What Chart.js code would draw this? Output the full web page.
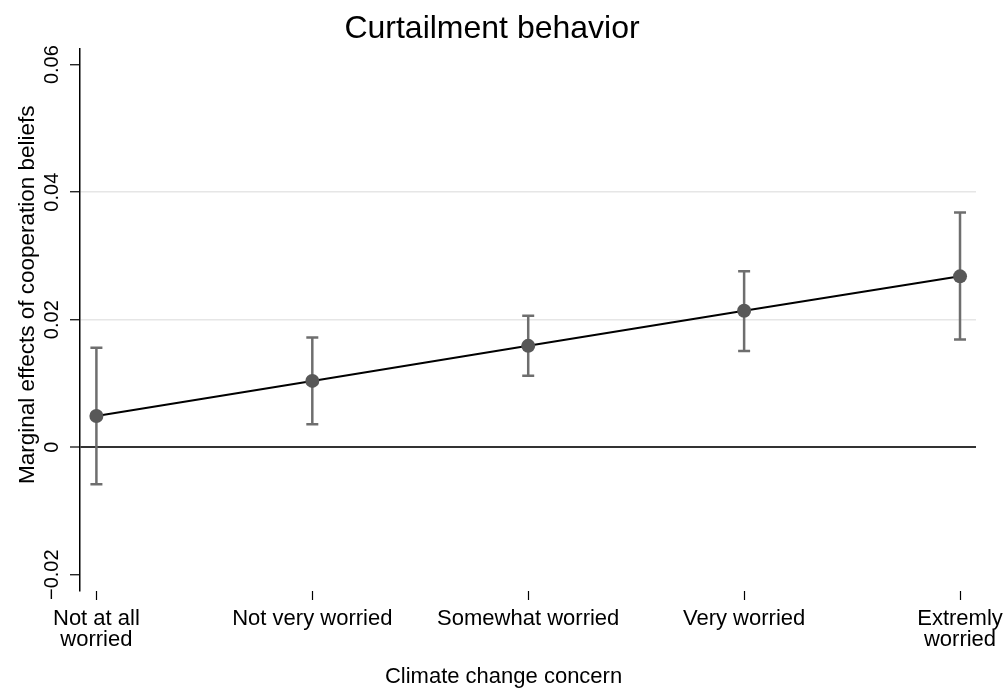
<!DOCTYPE html>
<html><head><meta charset="utf-8">
<script src="https://cdn.jsdelivr.net/npm/chart.js@4.4.1/dist/chart.umd.min.js"></script>
<style>html,body{margin:0;padding:0;background:#fff;} #wrap{width:1003px;height:691px;}</style>
</head><body><div id="wrap"><canvas id="c" width="1003" height="691"></canvas></div>
<script>
const categories = [["Not at all","worried"], "Not very worried", "Somewhat worried", "Very worried", ["Extremly","worried"]];
const effects = [0.0049, 0.0104, 0.0159, 0.0214, 0.0268];
const ciLower = [-0.0058, 0.0036, 0.0112, 0.0151, 0.0169];
const ciUpper = [0.0156, 0.0172, 0.0206, 0.0276, 0.0368];
const yTicks = [-0.02, 0, 0.02, 0.04, 0.06];
const xTicks = [0, 1, 2, 3, 4];

const FONT = "'Liberation Sans', Arial, Helvetica, sans-serif";
const barColor = '#6e6e6e';
const markerColor = '#585858';
const NB8 = '\u00a0\u00a0\u00a0\u00a0\u00a0\u00a0\u00a0\u00a0';
const yTitleText = NB8 + 'Marginal effects of cooperation beliefs';
const xTitleText = 'Climate change concern' + NB8;

const datasets = [{
  label: 'effect',
  data: effects.map((v, i) => ({x: xTicks[i], y: v})),
  borderColor: '#000',
  borderWidth: 2,
  pointRadius: 7,
  pointHoverRadius: 7,
  pointBackgroundColor: markerColor,
  pointBorderWidth: 0,
  showLine: true,
  order: 0
}];
ciLower.forEach((lo, i) => {
  datasets.push({
    label: 'ci' + i,
    data: [{x: xTicks[i], y: lo}, {x: xTicks[i], y: ciUpper[i]}],
    borderColor: barColor,
    borderWidth: 2.5,
    pointStyle: 'line',
    pointRadius: 6,
    pointHoverRadius: 6,
    pointBorderColor: barColor,
    pointBorderWidth: 2.5,
    showLine: true,
    order: 1
  });
});

new Chart(document.getElementById('c'), {
  type: 'scatter',
  data: {datasets},
  options: {
    responsive: false,
    animation: false,
    devicePixelRatio: 1,
    layout: {padding: {left: 8, right: 27, top: 0, bottom: 0}},
    plugins: {
      legend: {display: false},
      tooltip: {enabled: false},
      title: {
        display: true,
        text: 'Curtailment behavior',
        color: '#000',
        font: {family: FONT, size: 32, weight: 'normal', lineHeight: 1.2},
        padding: {top: 10, bottom: 0}
      }
    },
    scales: {
      x: {
        type: 'linear',
        min: -0.076,
        max: 4.074,
        afterBuildTicks: s => { s.ticks = xTicks.map(v => ({value: v})); },
        afterFit: s => { s.height = 100; s.paddingLeft = 0; s.paddingRight = 0; },
        border: {display: false},
        grid: {drawOnChartArea: false, drawTicks: true, tickLength: 9, tickColor: '#000', tickWidth: 1.2},
        ticks: {
          color: '#000',
          font: {family: FONT, size: 22, lineHeight: 0.97},
          padding: 8,
          maxRotation: 0,
          minRotation: 0,
          autoSkip: false,
          callback: v => categories[v]
        },
        title: {
          display: true,
          text: xTitleText,
          color: '#000',
          font: {family: FONT, size: 22, lineHeight: 1.2},
          padding: {top: 0, bottom: 1}
        }
      },
      y: {
        type: 'linear',
        min: -0.02255,
        max: 0.06255,
        afterBuildTicks: s => { s.ticks = yTicks.map(v => ({value: v})); },
        afterFit: s => { s.width = 72; },
        border: {display: true, color: '#000', width: 1.5},
        grid: {
          drawOnChartArea: true,
          drawTicks: true,
          tickLength: 10,
          tickColor: '#000',
          tickWidth: 1.2,
          color: c => {
            const v = c.tick ? c.tick.value : null;
            if (v === 0) return '#333333';
            if (v === 0.02 || v === 0.04) return '#e6e6e6';
            return 'rgba(0,0,0,0)';
          },
          lineWidth: c => (c.tick && c.tick.value === 0) ? 2 : 1.5
        },
        ticks: {
          color: '#000',
          font: {family: FONT, size: 20},
          minRotation: 90,
          maxRotation: 90,
          crossAlign: 'center',
          padding: -8,
          autoSkip: false,
          callback: v => v === 0 ? '0' : (v < 0 ? '\u2212' : '') + Math.abs(v).toFixed(2)
        },
        title: {
          display: true,
          text: yTitleText,
          color: '#000',
          font: {family: FONT, size: 22.5, lineHeight: 1.2},
          padding: {top: 6, bottom: 0}
        }
      }
    }
  }
});
</script>
</body></html>
